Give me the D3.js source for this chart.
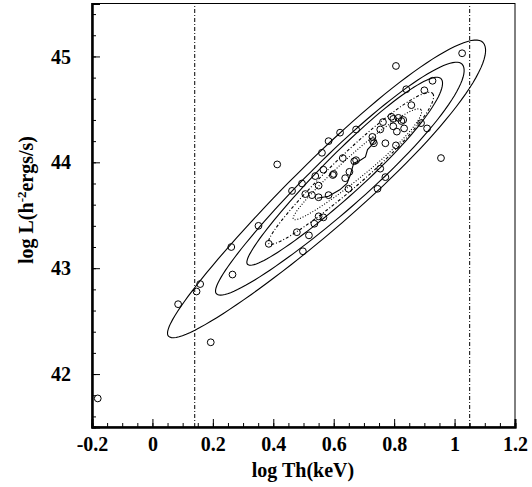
<!DOCTYPE html>
<html><head><meta charset="utf-8">
<script src="https://cdn.jsdelivr.net/npm/d3@7"></script>
<style>
html,body{margin:0;padding:0;background:#fff;}
svg{display:block;}
text{font-family:"Liberation Serif","Times New Roman",serif;font-weight:bold;fill:#000;}
</style></head>
<body><svg id="c" width="532" height="487"></svg>
<script>
// ---- data ----
const logT = [-0.181,0.085,0.146,0.158,0.193,0.261,0.265,0.351,0.385,0.413,0.462,0.478,0.495,0.498,0.506,0.518,0.528,0.536,0.539,0.550,0.550,0.550,0.561,0.566,0.566,0.583,0.583,0.597,0.600,0.621,0.630,0.638,0.649,0.652,0.668,0.674,0.674,0.728,0.730,0.733,0.745,0.754,0.754,0.763,0.771,0.771,0.791,0.797,0.797,0.806,0.806,0.814,0.824,0.830,0.833,0.809,0.840,0.857,0.889,0.900,0.909,0.927,0.955,1.025];
const logL = [41.77,42.66,42.78,42.85,42.30,43.20,42.94,43.40,43.23,43.98,43.73,43.34,43.80,43.16,43.70,43.31,43.69,43.42,43.87,43.49,43.67,43.78,44.09,43.93,43.48,43.69,44.20,43.88,43.89,44.28,44.04,43.85,43.75,43.91,44.01,44.02,44.31,44.24,44.20,44.18,43.75,43.94,44.31,44.38,43.86,44.18,44.43,44.41,44.34,44.16,44.91,44.42,44.39,44.40,44.32,44.29,44.69,44.54,44.37,44.68,44.32,44.77,44.04,45.03];
// contour ellipses: centre, tip vector, width vector (data units), lower-side width factor, egg factor
const contourCx  = [0.5735, 0.6182, 0.6348, 0.6563, 0.6778];
const contourCy  = [43.745, 43.843, 43.914, 43.942, 43.980];
const contourAx  = [0.5205, 0.4066, 0.3202, 0.2709, 0.2111];
const contourAy  = [1.3869, 1.0842, 0.8770, 0.7096, 0.5172];
const contourBx  = [0.0699, 0.0565, 0.0435, 0.0336, 0.0237];
const contourBy  = [-0.2146,-0.1729,-0.1298,-0.1046,-0.0790];
const contourLow = [1.16, 1.16, 1.16, 1.13, 1.10];
const contourEgg = [0.18, 0.15, 0.15, 0.15, 0.15];
const contourStyle = ["solid","solid","solid","dashdot","dot"];
// inner ridge line
const ridgeT = [0.545,0.583,0.620,0.644,0.655,0.666,0.688,0.705,0.712,0.725,0.738];
const ridgeL = [43.66,43.68,43.74,43.80,43.88,43.99,44.02,44.05,44.12,44.16,44.21];
// vertical limits
const limitT = [0.14, 1.05];
// ticks
const xMajor = [-0.2,0,0.2,0.4,0.6,0.8,1,1.2];
const xLabels = ["-0.2","0","0.2","0.4","0.6","0.8","1","1.2"];
const yMajor = [42,43,44,45];
const yLabels = ["42","43","44","45"];

// ---- drawing ----
const svg = d3.select("#c");
const L=92, R=515, T=3.5, B=427;
const x = d3.scaleLinear().domain([-0.2,1.2]).range([L,R]);
const y = d3.scaleLinear().domain([41.5,45.5]).range([B,T]);

const dashes = {solid:null, dashdot:"3,2,1,2", dot:"1,1.8"};
const line = d3.line().x(d=>x(d[0])).y(d=>y(d[1]));

// contours
contourCx.forEach((cx,i)=>{
  const pts = d3.range(0, 361, 3).map(deg=>{
    const t = deg*Math.PI/180, s = Math.sin(t);
    const w = (1 + contourEgg[i]*Math.cos(t)) * (s > 0 ? contourLow[i] : 1);
    return [cx + contourAx[i]*Math.cos(t) + contourBx[i]*s*w,
            contourCy[i] + contourAy[i]*Math.cos(t) + contourBy[i]*s*w];
  });
  svg.append("path").attr("d", line.curve(d3.curveLinearClosed)(pts))
    .attr("fill","none").attr("stroke","#000").attr("stroke-width",1.1)
    .attr("stroke-dasharray", dashes[contourStyle[i]]);
});
svg.append("path").attr("d", line.curve(d3.curveLinear)(ridgeT.map((t,i)=>[t,ridgeL[i]])))
  .attr("fill","none").attr("stroke","#000").attr("stroke-width",1.1);

// limit lines
limitT.forEach(t=>{
  svg.append("line").attr("x1",x(t)).attr("x2",x(t)).attr("y1",y(41.5)).attr("y2",y(45.5))
    .attr("stroke","#000").attr("stroke-width",1).attr("stroke-dasharray","4,2,1,2");
});

// points
svg.append("g").selectAll("circle").data(logT).join("circle")
  .attr("cx",d=>x(d)).attr("cy",(d,i)=>y(logL[i])).attr("r",3.4)
  .attr("fill","none").attr("stroke","#000").attr("stroke-width",1);

// frame
svg.append("rect").attr("x",L).attr("y",T).attr("width",R-L).attr("height",B-T)
  .attr("fill","none").attr("stroke","#000").attr("stroke-width",1);

// axes
const xMinor = d3.range(-0.2,1.2001,0.05);
const yMinor = d3.range(41.6,45.5001,0.2);
const gx = svg.append("g").attr("transform",`translate(0,${B})`);
gx.call(d3.axisBottom(x).tickValues(xMinor).tickSize(-4).tickFormat(""));
gx.call(g=>g.append("g").call(d3.axisBottom(x).tickValues(xMajor).tickSize(-8).tickFormat((d,i)=>xLabels[i])));
const gy = svg.append("g").attr("transform",`translate(${L},0)`);
gy.call(d3.axisLeft(y).tickValues(yMinor).tickSize(-4).tickFormat(""));
gy.call(g=>g.append("g").call(d3.axisLeft(y).tickValues(yMajor).tickSize(-8).tickFormat((d,i)=>yLabels[i])));
svg.selectAll(".domain").attr("stroke","#000").attr("stroke-width",2);
svg.selectAll(".tick line").attr("stroke","#000").attr("stroke-width",1);
gx.selectAll(".tick text").attr("font-size",20).attr("font-family","Liberation Serif").attr("font-weight","bold").attr("dy","0.71em").attr("y",10);
gy.selectAll(".tick text").attr("font-size",20).attr("font-family","Liberation Serif").attr("font-weight","bold").attr("dy","0.33em").attr("x",-21);

// titles
svg.append("text").attr("x",303).attr("y",477).attr("text-anchor","middle").attr("font-size",20).text("log Th(keV)");
const yt = svg.append("text").attr("transform","translate(33,200) rotate(-90)").attr("text-anchor","middle").attr("font-size",20);
yt.append("tspan").text("log L(h");
yt.append("tspan").attr("baseline-shift","super").attr("font-size",13).text("-2");
yt.append("tspan").text("ergs/s)");
</script></body></html>
